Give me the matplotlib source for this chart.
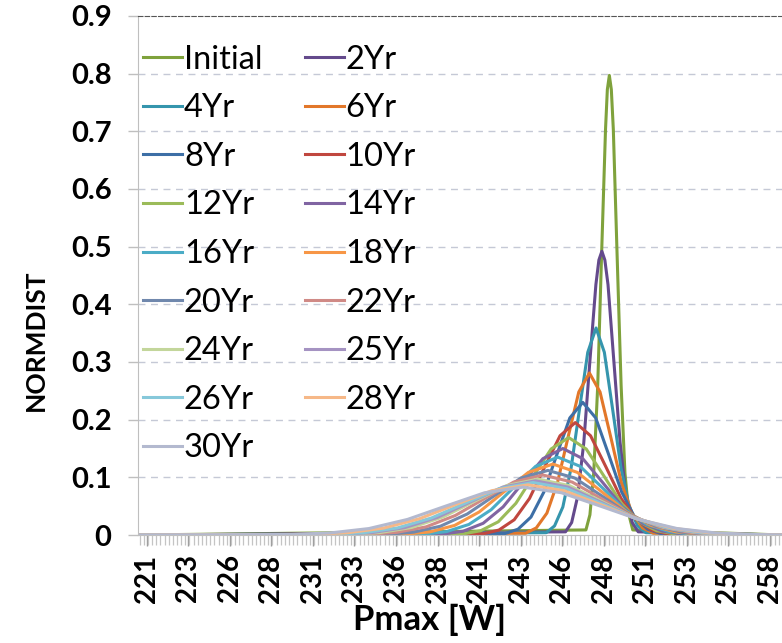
import matplotlib
matplotlib.use('Agg')
import matplotlib.pyplot as plt
from matplotlib.ticker import FixedLocator
import numpy as np

plt.rcParams['font.family'] = ['Lato', 'DejaVu Sans']

# 시리즈 이름 / 색
names = ['Initial', '2Yr', '4Yr', '6Yr', '8Yr', '10Yr', '12Yr', '14Yr', '16Yr',
         '18Yr', '20Yr', '22Yr', '24Yr', '25Yr', '26Yr', '28Yr', '30Yr']
colors = ['#7fa23c', '#644a8c', '#3595ad', '#e2772a', '#3d6fa6', '#c0473f',
          '#9bbb59', '#8064a2', '#4bacc6', '#f79646', '#7088ad', '#d08a86',
          '#c3d69b', '#a593c2', '#86c8da', '#f6b888', '#b3b9cf']

# x 축 눈금 (Pmax [W])
tick_vals = [220.9, 223.4, 225.9, 228.4, 230.9, 233.4, 235.9, 238.4,
             240.9, 243.4, 245.9, 248.4, 250.9, 253.4, 255.9, 258.4]
tick_labels = ['221', '223', '226', '228', '231', '233', '236', '238',
               '241', '243', '246', '248', '251', '253', '256', '258']
x_lo, x_hi = 220.36, 259.15

# 곡선 데이터
x_init = [247.34, 247.58, 247.81, 248.05, 248.28, 248.52, 248.63, 248.75, 248.87, 248.99, 249.22, 249.46, 249.69, 249.93, 250.16]
y_init = [0.0088, 0.035, 0.1078, 0.2588, 0.4834, 0.7034, 0.7725, 0.797, 0.7725, 0.7034, 0.4834, 0.2588, 0.1078, 0.035, 0.0088]
x_2 = [246.11, 246.48, 246.84, 247.21, 247.57, 247.94, 248.12, 248.3, 248.48, 248.67, 249.03, 249.40, 249.76, 250.13, 250.49]
y_2 = [0.0055, 0.0216, 0.0666, 0.1598, 0.2984, 0.4342, 0.4768, 0.492, 0.4768, 0.4342, 0.2984, 0.1598, 0.0666, 0.0216, 0.0055]
x_4 = [244.95, 245.45, 245.95, 246.45, 246.95, 247.45, 247.95, 248.45, 248.95, 249.45, 249.95, 250.45, 250.95]
y_4 = [0.0040, 0.0158, 0.0486, 0.1166, 0.2177, 0.3168, 0.359, 0.3168, 0.2177, 0.1166, 0.0486, 0.0158, 0.0040]
x_6 = [243.71, 244.35, 244.99, 245.63, 246.27, 246.91, 247.55, 248.19, 248.83, 249.47, 250.11, 250.75, 251.39]
y_6 = [0.0031, 0.0123, 0.0380, 0.0912, 0.1704, 0.2480, 0.281, 0.2480, 0.1704, 0.0912, 0.0380, 0.0123, 0.0031]
x_8 = [242.47, 243.25, 244.03, 244.81, 245.59, 246.37, 247.15, 247.93, 248.71, 249.49, 250.27, 251.05, 251.83]
y_8 = [0.0026, 0.0101, 0.0311, 0.0747, 0.1395, 0.2030, 0.230, 0.2030, 0.1395, 0.0747, 0.0311, 0.0101, 0.0026]
x_10 = [241.18, 242.10, 243.02, 243.94, 244.86, 245.78, 246.7, 247.62, 248.54, 249.46, 250.38, 251.30, 252.22]
y_10 = [0.0022, 0.0086, 0.0264, 0.0633, 0.1183, 0.1721, 0.195, 0.1721, 0.1183, 0.0633, 0.0264, 0.0086, 0.0022]
x_12 = [239.94, 241.00, 242.06, 243.12, 244.18, 245.24, 246.3, 247.36, 248.42, 249.48, 250.54, 251.60, 252.66]
y_12 = [0.0019, 0.0074, 0.0229, 0.0549, 0.1025, 0.1491, 0.169, 0.1491, 0.1025, 0.0549, 0.0229, 0.0074, 0.0019]
x_14 = [238.75, 239.95, 241.15, 242.35, 243.55, 244.75, 245.95, 247.15, 248.35, 249.55, 250.75, 251.95, 253.15]
y_14 = [0.0017, 0.0066, 0.0203, 0.0487, 0.0910, 0.1324, 0.150, 0.1324, 0.0910, 0.0487, 0.0203, 0.0066, 0.0017]
x_16 = [237.61, 238.95, 240.29, 241.63, 242.97, 244.31, 245.65, 246.99, 248.33, 249.67, 251.01, 252.35, 253.69]
y_16 = [0.0015, 0.0059, 0.0183, 0.0438, 0.0819, 0.1191, 0.135, 0.1191, 0.0819, 0.0438, 0.0183, 0.0059, 0.0015]
x_18 = [236.47, 237.95, 239.43, 240.91, 242.39, 243.87, 245.35, 246.83, 248.31, 249.79, 251.27, 252.75, 254.23]
y_18 = [0.0014, 0.0054, 0.0166, 0.0399, 0.0746, 0.1085, 0.123, 0.1085, 0.0746, 0.0399, 0.0166, 0.0054, 0.0014]
x_20 = [235.33, 236.95, 238.57, 240.19, 241.81, 243.43, 245.05, 246.67, 248.29, 249.91, 251.53, 253.15, 254.77]
y_20 = [0.0012, 0.0049, 0.0152, 0.0364, 0.0679, 0.0988, 0.112, 0.0988, 0.0679, 0.0364, 0.0152, 0.0049, 0.0012]
x_22 = [234.19, 235.95, 237.71, 239.47, 241.23, 242.99, 244.75, 246.51, 248.27, 250.03, 251.79, 253.55, 255.31]
y_22 = [0.0012, 0.0046, 0.0141, 0.0338, 0.0631, 0.0918, 0.104, 0.0918, 0.0631, 0.0338, 0.0141, 0.0046, 0.0012]
x_24 = [233.05, 234.95, 236.85, 238.75, 240.65, 242.55, 244.45, 246.35, 248.25, 250.15, 252.05, 253.95, 255.85]
y_24 = [0.0011, 0.0043, 0.0131, 0.0315, 0.0588, 0.0856, 0.097, 0.0856, 0.0588, 0.0315, 0.0131, 0.0043, 0.0011]
x_25 = [232.48, 234.45, 236.42, 238.39, 240.36, 242.33, 244.3, 246.27, 248.24, 250.21, 252.18, 254.15, 256.12]
y_25 = [0.0010, 0.0041, 0.0127, 0.0305, 0.0570, 0.0830, 0.094, 0.0830, 0.0570, 0.0305, 0.0127, 0.0041, 0.0010]
x_26 = [231.91, 233.95, 235.99, 238.03, 240.07, 242.11, 244.15, 246.19, 248.23, 250.27, 252.31, 254.35, 256.39]
y_26 = [0.0010, 0.0040, 0.0123, 0.0295, 0.0552, 0.0803, 0.091, 0.0803, 0.0552, 0.0295, 0.0123, 0.0040, 0.0010]
x_28 = [230.77, 232.95, 235.13, 237.31, 239.49, 241.67, 243.85, 246.03, 248.21, 250.39, 252.57, 254.75, 256.93]
y_28 = [0.0010, 0.0038, 0.0118, 0.0282, 0.0528, 0.0768, 0.087, 0.0768, 0.0528, 0.0282, 0.0118, 0.0038, 0.0010]
x_30 = [229.63, 231.95, 234.27, 236.59, 238.91, 241.23, 243.55, 245.87, 248.19, 250.51, 252.83, 255.15, 257.47]
y_30 = [0.0009, 0.0036, 0.0112, 0.0270, 0.0503, 0.0732, 0.083, 0.0732, 0.0503, 0.0270, 0.0112, 0.0036, 0.0009]

xs = [x_init, x_2, x_4, x_6, x_8, x_10, x_12, x_14, x_16, x_18, x_20, x_22, x_24, x_25, x_26, x_28, x_30]
ys = [y_init, y_2, y_4, y_6, y_8, y_10, y_12, y_14, y_16, y_18, y_20, y_22, y_24, y_25, y_26, y_28, y_30]

fig = plt.figure(figsize=(7.82, 6.43), dpi=100)
ax = fig.add_axes([138/782, 108/643, 644/782, 519/643])

handles = []
for name, c, xv, yv in zip(names, colors, xs, ys):
    # 곡선 양 끝은 0 (축 전체에 걸쳐 그려짐)
    h, = ax.plot([x_lo] + xv + [x_hi], [0] + yv + [0], color=c, lw=2.2,
                 solid_joinstyle='round', label=name)
    handles.append(h)

ax.set_xlim(x_lo, x_hi)
ax.set_ylim(0, 0.9)

ax.set_yticks(np.arange(0, 0.91, 0.1))
ax.set_yticklabels(['0', '0.1', '0.2', '0.3', '0.4', '0.5', '0.6', '0.7', '0.8', '0.9'])
ax.xaxis.set_major_locator(FixedLocator(tick_vals))
ax.set_xticklabels(tick_labels, rotation=90)
ax.xaxis.set_minor_locator(FixedLocator(np.arange(x_lo + 0.1, x_hi, 0.25)))

ax.tick_params(axis='y', labelsize=21, length=7, width=1, color='#bfbfbf', pad=12)
ax.tick_params(axis='x', which='major', labelsize=20, length=8, width=1, color='#9a9a9a', pad=6)
ax.tick_params(axis='x', which='minor', length=7, width=0.9, color='#c4c4c4')
for lb in ax.get_xticklabels() + ax.get_yticklabels():
    lb.set_fontweight('bold')

for yv in np.arange(0.1, 0.85, 0.1):
    ax.axhline(yv, color='#c5c9d6', lw=1, ls=(0, (5, 4)), zorder=0)

ax.spines['right'].set_visible(False)
ax.spines['top'].set_color('#555555')
ax.spines['top'].set_linestyle((0, (4, 2)))
ax.spines['left'].set_color('#bfbfbf')
ax.spines['bottom'].set_color('#bfbfbf')

ax.set_ylabel('NORMDIST', fontsize=19, fontweight='bold')
ax.yaxis.set_label_coords(-0.14, 0.376)
ax.set_xlabel('Pmax [W]', fontsize=25, fontweight='bold')
ax.xaxis.set_label_coords(0.453, -0.132)

order = list(range(0, 17, 2)) + list(range(1, 17, 2))
ax.legend([handles[i] for i in order], [names[i] for i in order], ncol=2,
          loc='upper left', bbox_to_anchor=(0.008, 0.945), frameon=False,
          fontsize=23.5, handlelength=1.2, handletextpad=0.05, columnspacing=1.3,
          labelspacing=0.57, borderaxespad=0, borderpad=0)

fig.savefig('out.png', dpi=100)
